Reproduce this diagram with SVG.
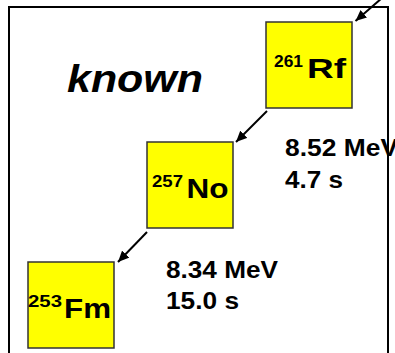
<svg xmlns="http://www.w3.org/2000/svg" width="395" height="353" viewBox="0 0 395 353">
<style>
.box{fill:#ffff00;stroke:#333333;stroke-width:1.5}
.t{font-family:"Liberation Sans",Arial,sans-serif;font-weight:bold;fill:#000}
.sup{font-size:17px}
.el{font-size:28px}
.info{font-size:23px}
.conn{stroke:#000;stroke-width:2;fill:none}
.frame{stroke:#000;stroke-width:2;fill:none}
</style>
<defs>
<marker id="ah" markerUnits="userSpaceOnUse" markerWidth="12" markerHeight="10" refX="11" refY="5" orient="auto">
<path d="M0,0 L11,5 L0,10 Z" fill="#000"/>
</marker>
</defs>
<rect width="395" height="353" fill="#fff"/>
<g id="label-known">
<text class="t" x="67" y="92" font-size="38" font-style="italic" textLength="136" lengthAdjust="spacingAndGlyphs">known</text>
</g>
<g id="node-rf261">
<rect class="box" x="266" y="22" width="86" height="86"/>
<text class="t sup" x="274" y="67" textLength="29" lengthAdjust="spacingAndGlyphs">261</text>
<text class="t el" x="307" y="77.5" textLength="39" lengthAdjust="spacingAndGlyphs">Rf</text>
</g>
<g id="node-no257">
<rect class="box" x="147" y="142" width="86" height="86"/>
<text class="t sup" x="152" y="187" textLength="31" lengthAdjust="spacingAndGlyphs">257</text>
<text class="t el" x="186.5" y="197.5" textLength="42" lengthAdjust="spacingAndGlyphs">No</text>
</g>
<g id="node-fm253">
<rect class="box" x="28" y="262" width="86" height="86"/>
<text class="t sup" x="28" y="307" textLength="34" lengthAdjust="spacingAndGlyphs">253</text>
<text class="t el" x="64" y="317.5" textLength="47" lengthAdjust="spacingAndGlyphs">Fm</text>
</g>
<g id="decay-rf-no">
<text class="t info" x="285" y="156" textLength="113" lengthAdjust="spacingAndGlyphs">8.52 MeV</text>
<text class="t info" x="285" y="188" textLength="58" lengthAdjust="spacingAndGlyphs">4.7 s</text>
</g>
<g id="decay-no-fm">
<text class="t info" x="166" y="278" textLength="112" lengthAdjust="spacingAndGlyphs">8.34 MeV</text>
<text class="t info" x="166" y="308.5" textLength="73" lengthAdjust="spacingAndGlyphs">15.0 s</text>
</g>
<g id="connectors">
<line class="conn" x1="382" y1="-2" x2="355.5" y2="21" marker-end="url(#ah)"/>
<line class="conn" x1="267" y1="111" x2="236" y2="142" marker-end="url(#ah)"/>
<line class="conn" x1="147" y1="232" x2="118" y2="262" marker-end="url(#ah)"/>
</g>
<g id="frame">
<polyline class="frame" points="9,353 9,7 388,7 388,353"/>
</g>
</svg>
